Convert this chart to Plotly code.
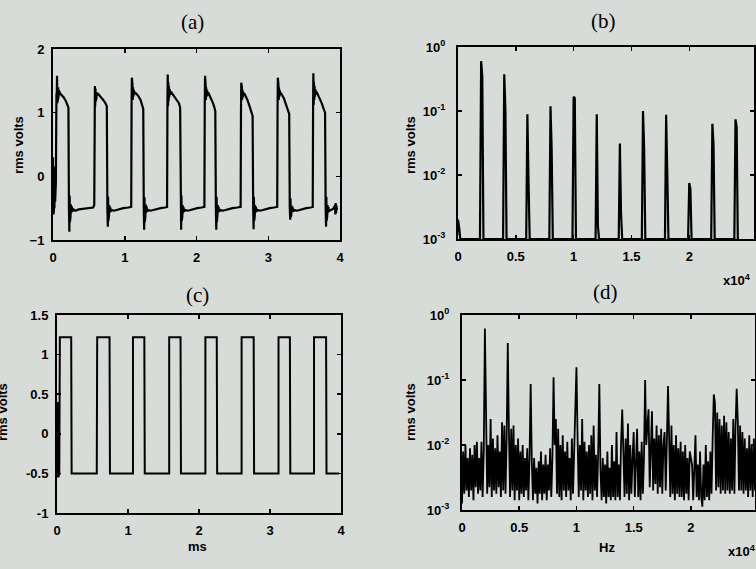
import plotly.graph_objects as go

W, H = 756, 569

# ---------------- (a) measured waveform (ms, volts) ----------------
t_a = [
    # start + pulse 1
    0.000, 0.004, 0.008, 0.012, 0.016, 0.020, 0.025, 0.030, 0.040, 0.048, 0.052, 0.056, 0.060, 0.064,
    0.068, 0.072, 0.076, 0.080, 0.086, 0.092, 0.100, 0.120, 0.150, 0.180, 0.205, 0.215, 0.222, 0.228,
    0.232, 0.236, 0.240, 0.244, 0.248, 0.253, 0.260, 0.270, 0.285, 0.310, 0.360, 0.430, 0.500, 0.560,
    # pulse 2
    0.575, 0.580, 0.584, 0.588, 0.592, 0.596, 0.600, 0.605, 0.610, 0.616, 0.625, 0.640, 0.670, 0.700,
    0.730, 0.750, 0.758, 0.764, 0.768, 0.772, 0.776, 0.780, 0.784, 0.789, 0.795, 0.805, 0.820, 0.850,
    0.900, 0.980, 1.050, 1.085,
    # pulse 3
    1.090, 1.095, 1.099, 1.103, 1.107, 1.111, 1.115, 1.120, 1.126, 1.133, 1.142, 1.160, 1.190, 1.220,
    1.245, 1.258, 1.265, 1.271, 1.275, 1.279, 1.283, 1.287, 1.291, 1.296, 1.302, 1.312, 1.330, 1.360,
    1.420, 1.500, 1.560, 1.585,
    # pulse 4
    1.590, 1.595, 1.599, 1.603, 1.607, 1.611, 1.615, 1.620, 1.626, 1.633, 1.642, 1.660, 1.690, 1.720,
    1.755, 1.772, 1.780, 1.786, 1.790, 1.794, 1.798, 1.802, 1.806, 1.811, 1.817, 1.827, 1.845, 1.880,
    1.940, 2.010, 2.070, 2.105,
    # pulse 5
    2.110, 2.115, 2.119, 2.123, 2.127, 2.131, 2.135, 2.140, 2.146, 2.153, 2.162, 2.180, 2.205, 2.230,
    2.250, 2.262, 2.270, 2.276, 2.280, 2.284, 2.288, 2.292, 2.296, 2.301, 2.307, 2.317, 2.335, 2.370,
    2.430, 2.500, 2.570, 2.610,
    # pulse 6
    2.615, 2.620, 2.624, 2.628, 2.632, 2.636, 2.640, 2.645, 2.651, 2.658, 2.667, 2.685, 2.710, 2.740,
    2.765, 2.782, 2.790, 2.796, 2.800, 2.804, 2.808, 2.812, 2.816, 2.821, 2.827, 2.837, 2.855, 2.890,
    2.950, 3.020, 3.080, 3.120,
    # pulse 7
    3.125, 3.130, 3.134, 3.138, 3.142, 3.146, 3.150, 3.155, 3.161, 3.168, 3.177, 3.195, 3.220, 3.250,
    3.275, 3.292, 3.300, 3.306, 3.310, 3.314, 3.318, 3.322, 3.326, 3.331, 3.337, 3.347, 3.365, 3.400,
    3.460, 3.530, 3.590, 3.615,
    # pulse 8 + end
    3.620, 3.625, 3.629, 3.633, 3.637, 3.641, 3.645, 3.650, 3.656, 3.663, 3.672, 3.690, 3.715, 3.745,
    3.775, 3.792, 3.800, 3.806, 3.810, 3.814, 3.818, 3.822, 3.826, 3.831, 3.837, 3.847, 3.865, 3.890,
    3.915, 3.930, 3.935, 3.940, 3.945, 3.950, 3.955, 3.960,
]
v_a = [
    0.30, -0.60, 0.25, -0.55, 0.15, -0.50, 0.05, -0.40, -0.10, 1.30, 1.20, 1.58, 1.15, 1.45,
    1.20, 1.40, 1.22, 1.36, 1.28, 1.33, 1.30, 1.28, 1.24, 1.18, 1.12, 1.08, -0.50, -0.87,
    -0.30, -0.72, -0.38, -0.63, -0.44, -0.58, -0.47, -0.55, -0.52, -0.54, -0.52, -0.51, -0.50, -0.49,
    -0.45, 1.05, 1.42, 1.10, 1.38, 1.18, 1.35, 1.22, 1.32, 1.27, 1.30, 1.28, 1.25, 1.20,
    1.15, 1.10, -0.50, -0.79, -0.32, -0.70, -0.40, -0.62, -0.45, -0.57, -0.48, -0.55, -0.53, -0.54,
    -0.52, -0.50, -0.49, -0.48,
    -0.48, 1.10, 1.55, 1.12, 1.45, 1.20, 1.40, 1.25, 1.36, 1.28, 1.32, 1.30, 1.26, 1.20,
    1.12, 1.06, -0.50, -0.84, -0.33, -0.72, -0.41, -0.63, -0.44, -0.58, -0.47, -0.55, -0.53, -0.54,
    -0.52, -0.50, -0.49, -0.48,
    -0.48, 1.15, 1.60, 1.10, 1.48, 1.18, 1.42, 1.24, 1.37, 1.28, 1.33, 1.30, 1.27, 1.22,
    1.15, 1.08, -0.50, -0.84, -0.30, -0.70, -0.40, -0.64, -0.45, -0.58, -0.48, -0.55, -0.53, -0.54,
    -0.52, -0.50, -0.49, -0.48,
    -0.48, 1.10, 1.58, 1.15, 1.45, 1.20, 1.40, 1.25, 1.36, 1.27, 1.32, 1.28, 1.22, 1.15,
    1.08, 1.02, -0.50, -0.84, -0.32, -0.72, -0.40, -0.62, -0.45, -0.57, -0.48, -0.55, -0.53, -0.54,
    -0.52, -0.50, -0.49, -0.48,
    -0.48, 1.05, 1.47, 1.12, 1.40, 1.20, 1.36, 1.24, 1.33, 1.27, 1.30, 1.26, 1.20, 1.10,
    1.00, 0.95, -0.50, -0.83, -0.32, -0.70, -0.40, -0.62, -0.45, -0.57, -0.48, -0.55, -0.53, -0.54,
    -0.52, -0.50, -0.49, -0.48,
    -0.48, 1.10, 1.55, 1.15, 1.44, 1.20, 1.40, 1.25, 1.35, 1.28, 1.31, 1.27, 1.22, 1.12,
    1.02, 0.98, -0.50, -0.68, -0.35, -0.64, -0.42, -0.60, -0.46, -0.56, -0.48, -0.55, -0.53, -0.54,
    -0.52, -0.50, -0.49, -0.48,
    -0.48, 1.15, 1.62, 1.12, 1.48, 1.20, 1.42, 1.25, 1.37, 1.28, 1.33, 1.29, 1.24, 1.15,
    1.05, 1.00, -0.50, -0.79, -0.32, -0.70, -0.40, -0.62, -0.45, -0.57, -0.48, -0.55, -0.53, -0.52,
    -0.50, -0.45, -0.60, -0.42, -0.58, -0.46, -0.52, -0.50,
]

# ---------------- (c) ideal square wave (ms, volts) ----------------
t_c = [
    0.000, 0.004, 0.008, 0.012, 0.016, 0.020, 0.024, 0.028, 0.032, 0.036, 0.040,
    0.040, 0.200, 0.200, 0.206, 0.206,
    0.560, 0.560, 0.566, 0.566, 0.740, 0.740, 0.746, 0.746,
    1.070, 1.070, 1.230, 1.230, 1.236, 1.236,
    1.580, 1.580, 1.740, 1.740, 1.746, 1.746,
    2.090, 2.090, 2.250, 2.250, 2.256, 2.256,
    2.600, 2.600, 2.770, 2.770, 2.776, 2.776,
    3.120, 3.120, 3.280, 3.280, 3.286, 3.286,
    3.620, 3.620, 3.790, 3.790, 3.796, 3.796,
    3.970,
]
v_c = [
    -0.50, 0.35, -0.55, 0.40, -0.50, 0.30, -0.55, 0.38, -0.52, 0.30, 0.40,
    1.22, 1.22, 0.40, 0.38, -0.50,
    -0.50, 0.36, 0.40, 1.22, 1.22, 0.40, 0.38, -0.50,
    -0.50, 1.22, 1.22, 0.40, 0.38, -0.50,
    -0.50, 1.22, 1.22, 0.40, 0.38, -0.50,
    -0.50, 1.22, 1.22, 0.40, 0.38, -0.50,
    -0.50, 1.22, 1.22, 0.40, 0.38, -0.50,
    -0.50, 1.22, 1.22, 0.40, 0.38, -0.50,
    -0.50, 1.22, 1.22, 0.40, 0.38, -0.50,
    -0.50,
]

# ---------------- (b) spectrum of ideal wave (Hz, rms volts) ----------------
b_freq = [0, 2000, 4000, 6000, 8000, 10000, 12000, 14000, 16000, 18000, 20000, 22000, 24000]
b_peak = [0.002, 0.60, 0.375, 0.089, 0.119, 0.167, 0.089, 0.031, 0.10, 0.087, 0.0075, 0.063, 0.074]
b_side = [0.0015, 0.35, 0.10, 0.008, 0.025, 0.16, 0.0016, 0.0025, 0.025, 0.011, 0.006, 0.03, 0.056]
b_floor = 0.001
b_bin = 100

# ---------------- (d) spectrum of measured wave (Hz, rms volts) ----------------
d_bin = 100
d_noise_log10 = [
    -2.90, -2.10, -2.75, -2.00, -2.70, -2.20, -2.80, -2.05, -2.70, -2.15, -2.85, -2.00, -2.65, -1.95, -2.75, -2.20, -2.70, -1.95, -2.80, -2.10,
    -2.70, -1.75, -2.75, -2.00, -2.65, -1.60, -2.80, -1.90, -2.70, -2.05, -2.75, -1.85, -2.65, -2.10, -2.80, -1.65, -2.70, -1.70, -2.75, -1.90,
    -2.70, -1.80, -2.80, -1.75, -2.70, -1.70, -2.85, -2.00, -2.70, -1.90, -2.85, -2.10, -2.75, -2.00, -2.80, -2.20, -2.70, -2.05, -2.85, -2.20,
    -2.75, -2.25, -2.85, -2.20, -2.75, -2.35, -2.90, -2.25, -2.75, -2.10, -2.85, -2.30, -2.75, -2.15, -2.85, -2.30, -2.70, -2.05, -2.80, -2.20,
    -2.75, -2.00, -1.60, -2.75, -1.75, -2.80, -2.00, -2.85, -1.85, -2.70, -2.10, -2.80, -1.95, -2.70, -2.20, -2.85, -1.90, -2.75, -2.05, -1.80,
    -2.70, -1.90, -2.80, -2.00, -2.70, -1.60, -2.85, -1.95, -2.70, -2.10, -2.80, -2.00, -2.75, -1.85, -2.85, -1.70, -2.70, -2.15, -2.80, -2.10,
    -2.75, -2.40, -2.85, -2.20, -2.80, -2.30, -2.90, -2.10, -2.80, -2.35, -2.85, -2.00, -2.80, -2.25, -2.85, -1.80, -2.80, -2.30, -2.85, -1.95,
    -2.75, -2.10, -2.80, -1.90, -2.75, -1.67, -2.85, -2.00, -2.75, -2.20, -1.80, -2.80, -2.05, -1.75, -2.80, -2.10, -2.85, -1.95, -2.75, -2.20,
    -2.70, -2.00, -1.70, -1.45, -2.65, -1.80, -1.48, -2.70, -1.90, -2.60, -1.70, -2.75, -1.85, -2.65, -1.75, -2.75, -2.00, -1.80, -2.70, -1.95,
    -2.75, -1.90, -2.80, -1.70, -2.75, -2.00, -2.85, -1.85, -2.75, -2.05, -2.80, -1.95, -2.80, -2.10, -2.85, -2.00, -2.75, -2.20, -2.85, -2.10,
    -2.80, -2.30, -2.85, -2.20, -1.85, -2.80, -2.30, -2.85, -2.10, -2.80, -2.95, -2.30, -2.85, -2.00, -2.80, -2.25, -2.85, -2.10, -2.75, -1.90,
    -1.50, -1.35, -2.70, -1.50, -2.65, -1.60, -2.75, -1.70, -2.70, -1.55, -2.75, -1.65, -2.70, -1.80, -2.75, -1.90, -2.70, -1.60, -2.75, -1.70,
    -1.50, -1.65, -2.70, -1.70, -2.70, -1.80, -2.75, -1.90, -2.70, -2.05, -2.80, -1.85, -2.70, -2.00, -2.80, -1.90, -2.70, -2.10, -2.75, -2.00,
]
d_harm_freq = [2000, 4000, 6000, 8000, 10000, 12000, 14000, 16000, 18000, 20000, 22000, 24000]
d_harm_peak = [0.62, 0.37, 0.087, 0.11, 0.157, 0.087, 0.035, 0.10, 0.081, 0.006, 0.06, 0.073]

# ---- build spectrum traces from the arrays ----
bx, by = [], []
for f, p, s in zip(b_freq, b_peak, b_side):
    bx += [f - b_bin, f, f + b_bin, f + 2 * b_bin]
    by += [b_floor, p, s, b_floor]

dx = [i * d_bin for i in range(len(d_noise_log10))]
dy = [10 ** v for v in d_noise_log10]
for f, p in zip(d_harm_freq, d_harm_peak):
    dy[f // d_bin] = max(p, dy[f // d_bin])

# ---------------- figure ----------------
BG = "#d8dcd8"
TICKFONT = dict(family="Liberation Sans Narrow, Liberation Sans, Arial, sans-serif",
                size=13, color="black", weight="bold")

def px(x):
    return x / W

def py(y):
    return 1 - y / H

def axis(dom, **kw):
    d = dict(domain=dom, showline=True, linecolor="black", linewidth=2, mirror="allticks",
             ticks="inside", ticklen=4, tickwidth=1.5, tickcolor="black", automargin=False,
             showgrid=False, zeroline=False, tickfont=TICKFONT)
    d.update(kw)
    return d

fig = go.Figure()
line_kw = dict(color="black")
fig.add_trace(go.Scatter(x=t_a, y=v_a, mode="lines", line=dict(width=2.2, **line_kw),
                         xaxis="x", yaxis="y", hoverinfo="skip"))
fig.add_trace(go.Scatter(x=bx, y=by, mode="lines", line=dict(width=2.2, **line_kw),
                         xaxis="x2", yaxis="y2", hoverinfo="skip"))
fig.add_trace(go.Scatter(x=t_c, y=v_c, mode="lines", line=dict(width=2, **line_kw),
                         xaxis="x3", yaxis="y3", hoverinfo="skip"))
fig.add_trace(go.Scatter(x=dx, y=dy, mode="lines", line=dict(width=1.8, **line_kw),
                         xaxis="x4", yaxis="y4", hoverinfo="skip"))

spec_xt = [0, 5000, 10000, 15000, 20000]
spec_xl = ["0", "0.5", "1", "1.5", "2"]
log_tv = [0.001, 0.01, 0.1, 1]
log_tl = ["10<sup>-3</sup>", "10<sup>-2</sup>", "10<sup>-1</sup>", "10<sup>0</sup>"]

fig.update_layout(
    template="none",
    width=W, height=H, autosize=False, showlegend=False,
    margin=dict(l=0, r=0, t=0, b=0, pad=0),
    paper_bgcolor=BG, plot_bgcolor=BG,
    xaxis=axis([px(53), px(340)], anchor="y", range=[0, 4], tickvals=[0, 1, 2, 3, 4],
               ticklabelstandoff=4),
    yaxis=axis([py(240), py(49)], anchor="x", range=[-1, 2], tickvals=[-1, 0, 1, 2],
               ticklabelstandoff=4),
    xaxis2=axis([px(458), px(754)], anchor="y2", range=[0, 25600], tickvals=spec_xt,
                ticktext=spec_xl, ticklabelstandoff=4),
    yaxis2=axis([py(239), py(47)], anchor="x2", type="log", range=[-3, 0], tickvals=log_tv,
                ticktext=log_tl, ticklabelstandoff=8),
    xaxis3=axis([px(57), px(341)], anchor="y3", range=[0, 4], tickvals=[0, 1, 2, 3, 4],
                ticklabelstandoff=4),
    yaxis3=axis([py(513), py(315)], anchor="x3", range=[-1, 1.5],
                tickvals=[-1, -0.5, 0, 0.5, 1, 1.5],
                ticktext=["-1", "-0.5", "0", "0.5", "1", "1.5"], ticklabelstandoff=4),
    xaxis4=axis([px(462), px(755)], anchor="y4", range=[0, 25600], tickvals=spec_xt,
                ticktext=spec_xl, ticklabelstandoff=4),
    yaxis4=axis([py(510), py(315)], anchor="x4", type="log", range=[-3, 0], tickvals=log_tv,
                ticktext=log_tl, ticklabelstandoff=8),
)

SERIF = dict(family="Liberation Serif, Times New Roman, serif", size=21, color="black")
LABEL = dict(family="Liberation Sans Narrow, Liberation Sans, Arial, sans-serif",
             size=13, color="black", weight="bold")

annots = [
    ("(a)", 192, 22, SERIF, 0),
    ("(b)", 603, 21, SERIF, 0),
    ("(c)", 197, 295, SERIF, 0),
    ("(d)", 605, 292, SERIF, 0),
    ("rms volts", 18, 145, LABEL, -90),
    ("rms volts", 410, 145, LABEL, -90),
    ("rms volts", 2, 412, LABEL, -90),
    ("rms volts", 410, 412, LABEL, -90),
    ("ms", 197, 546, LABEL, 0),
    ("Hz", 607, 547, LABEL, 0),
    ("x10<sup>4</sup>", 737, 280, LABEL, 0),
    ("x10<sup>4</sup>", 742, 551, LABEL, 0),
]
for text, x, y, font, ang in annots:
    fig.add_annotation(text=text, x=px(x), y=py(y), xref="paper", yref="paper",
                       xanchor="center", yanchor="middle", showarrow=False,
                       font=font, textangle=ang)

fig.write_html(
    "out.html",
    config={"displayModeBar": False, "staticPlot": True},
    post_script=("document.body.style.margin='0';document.body.style.padding='0';"
                 "document.body.style.overflow='hidden';"
                 "document.body.style.background='#d8dcd8';"
                 "document.documentElement.style.background='#d8dcd8';"),
)
